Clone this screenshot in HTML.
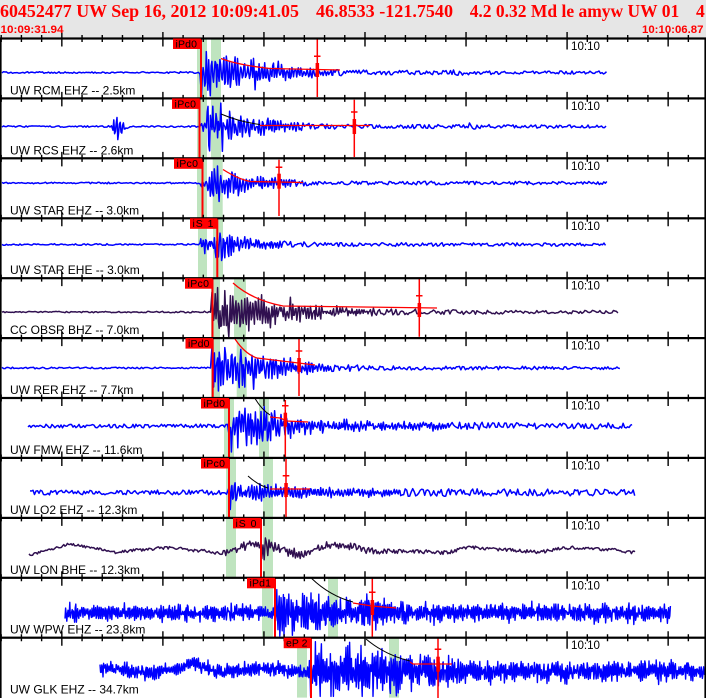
<!DOCTYPE html>
<html><head><meta charset="utf-8"><style>
html,body{margin:0;padding:0;background:#fff;width:706px;height:698px;overflow:hidden}
svg{display:block}
</style></head><body>
<svg id="s" width="706" height="698" viewBox="0 0 706 698" xmlns="http://www.w3.org/2000/svg">
<rect x="0" y="0" width="706" height="698" fill="#fff"/>
<rect x="0" y="0" width="706" height="38.5" fill="#e6e6e6"/>
<g id="green" fill="#bfe4bf"></g>
<g id="waves"></g>
<g id="marks">
  <path fill="none" stroke="#f00" stroke-width="2" d="M201,38.5V97.5 M199.5,98.4V157.5 M202.5,158.3V217.5 M217.3,218.3V277.5 M212.5,278.2V337.5 M212.7,338.1V397.5 M229,398V457.5 M229,458V517.5 M261,518V577.5 M275,578V637.5 M311,638V698"/>
  <path fill="none" stroke="#f00" stroke-width="1.3" d="M221,58.5 Q238,65 270,68.5 L340,70 M223,169.5 Q238,179 250,181.5 L303,182.5 M233,283 Q252,300 283,306 L437,308 M235,339 Q245,354 257,358 L315,365 M260,125.5 L370,125.5 M270,417 L280,418 L287,421 L308,422 M270,489 L310,489 M353,603 L372,606 L396,608 M410,662 L413,664 L452,664"/>
  <path fill="none" stroke="#000" stroke-width="1" d="M221,114 Q240,122 260,124.5 M255,398.5 Q262,410 270,415 M248,476 Q258,485 268,488 M311.7,578.5 Q330,596 353,602 M366,639 Q385,655 410,661"/>
  <path fill="none" stroke="#f00" stroke-width="1.5" d="
    M317.3,38.5V97 M314,56.3H320.5
    M354.3,99.7V157 M351,112H357.5
    M279,159.7V216 M275.7,167.3H282.3
    M419.3,278.5V336.7 M416,295.7H422.5
    M299,338.5V396 M295.7,351H302.3
    M285.3,400V457.5 M282,405.7H288.5
    M286,458V517.5 M282.7,475.7H289.3
    M372.3,578V636.7 M369,592.3H375.5
    M438,638V698 M434.7,649.3H441.3"/>
  <g fill="#f00">
    <rect x="315.6" y="63" width="3.5" height="14"/>
    <rect x="352.6" y="119" width="3.5" height="15"/>
    <rect x="277.3" y="173.7" width="3.5" height="15"/>
    <rect x="417.6" y="303" width="3.5" height="14"/>
    <rect x="297.3" y="358" width="3.5" height="14"/>
    <rect x="283.6" y="412.7" width="3.5" height="14"/>
    <rect x="284.3" y="483" width="3.5" height="14"/>
    <rect x="370.6" y="600" width="3.5" height="15"/>
    <rect x="436.3" y="656.7" width="3.5" height="15"/>
  </g>
</g>
<g id="axes" fill="#000">
  <rect x="0" y="37.4" width="706" height="2.2"/>
  <rect x="0" y="97.3" width="706" height="2.2"/>
  <rect x="0" y="157.2" width="706" height="2.2"/>
  <rect x="0" y="217.2" width="706" height="2.2"/>
  <rect x="0" y="277.1" width="706" height="2.2"/>
  <rect x="0" y="337" width="706" height="2.2"/>
  <rect x="0" y="396.9" width="706" height="2.2"/>
  <rect x="0" y="456.8" width="706" height="2.2"/>
  <rect x="0" y="516.8" width="706" height="2.2"/>
  <rect x="0" y="576.7" width="706" height="2.2"/>
  <rect x="0" y="636.6" width="706" height="2.2"/>
  <rect x="0" y="38.5" width="1.6" height="660"/>
  <rect x="704.4" y="38.5" width="1.6" height="660"/>
</g>
<g id="ticks"></g>
<g font-family="'Liberation Serif', serif" font-weight="bold" font-size="17.5" fill="#f00">
  <text x="0" y="17" textLength="299" lengthAdjust="spacingAndGlyphs">60452477 UW Sep 16, 2012 10:09:41.05</text>
  <text x="316" y="17" textLength="137" lengthAdjust="spacingAndGlyphs">46.8533 -121.7540</text>
  <text x="469.7" y="17" textLength="209.5" lengthAdjust="spacingAndGlyphs">4.2 0.32 Md le amyw UW 01</text>
  <text x="696" y="17">4</text>
</g>
<g font-family="'Liberation Sans', Arial, sans-serif" font-weight="bold" font-size="11" fill="#f00">
  <text x="0.5" y="33" textLength="63" lengthAdjust="spacingAndGlyphs">10:09:31.94</text>
  <text x="642" y="33" textLength="61.5" lengthAdjust="spacingAndGlyphs">10:10:06.87</text>
</g>
<g font-family="'Liberation Sans', Arial, sans-serif" font-size="12" fill="#000">
  <text x="571" y="50" textLength="29" lengthAdjust="spacingAndGlyphs">10:10</text>
  <text x="571" y="109.9" textLength="29" lengthAdjust="spacingAndGlyphs">10:10</text>
  <text x="571" y="169.8" textLength="29" lengthAdjust="spacingAndGlyphs">10:10</text>
  <text x="571" y="229.8" textLength="29" lengthAdjust="spacingAndGlyphs">10:10</text>
  <text x="571" y="289.7" textLength="29" lengthAdjust="spacingAndGlyphs">10:10</text>
  <text x="571" y="349.6" textLength="29" lengthAdjust="spacingAndGlyphs">10:10</text>
  <text x="571" y="409.5" textLength="29" lengthAdjust="spacingAndGlyphs">10:10</text>
  <text x="571" y="469.4" textLength="29" lengthAdjust="spacingAndGlyphs">10:10</text>
  <text x="571" y="529.4" textLength="29" lengthAdjust="spacingAndGlyphs">10:10</text>
  <text x="571" y="589.3" textLength="29" lengthAdjust="spacingAndGlyphs">10:10</text>
  <text x="571" y="649.2" textLength="29" lengthAdjust="spacingAndGlyphs">10:10</text>
</g>
<g font-family="'Liberation Sans', Arial, sans-serif" font-size="12" fill="#000">
  <text x="10" y="94.4">UW RCM EHZ -- 2.5km</text>
  <text x="10" y="154.3">UW RCS EHZ -- 2.6km</text>
  <text x="10" y="214.3">UW STAR EHZ -- 3.0km</text>
  <text x="10" y="274.2">UW STAR EHE -- 3.0km</text>
  <text x="10" y="334.1">CC OBSR BHZ -- 7.0km</text>
  <text x="10" y="394">UW RER EHZ -- 7.7km</text>
  <text x="10" y="453.9">UW FMW EHZ -- 11.6km</text>
  <text x="10" y="513.9">UW LO2 EHZ -- 12.3km</text>
  <text x="10" y="573.8">UW LON BHE -- 12.3km</text>
  <text x="10" y="633.7">UW WPW EHZ -- 23.8km</text>
  <text x="10" y="693.6">UW GLK EHZ -- 34.7km</text>
</g>
<g fill="#f00">
  <rect x="173" y="38.5" width="27.8" height="10.5"/>
  <rect x="172" y="98.4" width="27.8" height="10.5"/>
  <rect x="174" y="158.3" width="27.8" height="10.5"/>
  <rect x="190" y="218.3" width="27.3" height="10.5"/>
  <rect x="185" y="278.2" width="27.5" height="10.5"/>
  <rect x="185.5" y="338.1" width="27.5" height="10.5"/>
  <rect x="201" y="398" width="28" height="10.5"/>
  <rect x="201" y="458" width="28" height="10.5"/>
  <rect x="233" y="517.9" width="28" height="10.5"/>
  <rect x="247" y="577.8" width="28" height="10.5"/>
  <rect x="283.7" y="637.7" width="27.5" height="10.5"/>
</g>
<g font-family="'Liberation Sans', Arial, sans-serif" font-size="10.5" fill="#000">
  <text x="175.5" y="47.4" textLength="21.5" lengthAdjust="spacing">iPd0</text>
  <text x="174.5" y="107.3" textLength="21.5" lengthAdjust="spacing">iPc0</text>
  <text x="176.5" y="167.2" textLength="21.5" lengthAdjust="spacing">iPc0</text>
  <text x="192.5" y="227.2" textLength="21" lengthAdjust="spacing">iS 1</text>
  <text x="187.5" y="287.1" textLength="21.5" lengthAdjust="spacing">iPc0</text>
  <text x="188" y="347" textLength="21.5" lengthAdjust="spacing">iPd0</text>
  <text x="203.5" y="406.9" textLength="21.5" lengthAdjust="spacing">iPd0</text>
  <text x="203.5" y="466.9" textLength="21.5" lengthAdjust="spacing">iPc0</text>
  <text x="235.5" y="526.8" textLength="21" lengthAdjust="spacing">iS 0</text>
  <text x="249.5" y="586.7" textLength="21.5" lengthAdjust="spacing">iPd1</text>
  <text x="286" y="646.6" textLength="21.5" lengthAdjust="spacing">eP 2</text>
</g>
</svg>
<script>
(function(){
var NS='http://www.w3.org/2000/svg';
function el(tag,attrs,parent){var e=document.createElementNS(NS,tag);for(var k in attrs)e.setAttribute(k,attrs[k]);parent.appendChild(e);return e;}
function mulberry32(a){return function(){a|=0;a=a+0x6D2B79F5|0;var t=Math.imul(a^a>>>15,1|a);t=t+Math.imul(t^t>>>7,61|t)^t;return((t^t>>>14)>>>0)/4294967296;};}
function lin(p,x){if(x<=p[0][0])return p[0][1];for(var i=1;i<p.length;i++){if(x<=p[i][0]){var a=p[i-1],b=p[i];var f=(x-a[0])/((b[0]-a[0])||1);return a[1]+(b[1]-a[1])*f;}}return p[p.length-1][1];}
function cosi(p,x){if(x<=p[0][0])return p[0][1];for(var i=1;i<p.length;i++){if(x<=p[i][0]){var a=p[i-1],b=p[i];var f=(x-a[0])/((b[0]-a[0])||1);f=(1-Math.cos(Math.PI*f))/2;return a[1]+(b[1]-a[1])*f;}}return p[p.length-1][1];}
var yc=[38.5,98.42,158.34,218.26,278.18,338.1,398.02,457.94,517.86,577.78,637.7,697.62];

var G=document.getElementById('green');
var bands=[[[197,207],[211,221]],[[197,207],[211,221]],[[197,207],[212.7,222.7]],[[198,207],[213,223]],[[211,220],[234,246]],[[211,220],[236.7,246.7]],[[224,234],[259,269]],[[226,236],[263,273]],[[226,236],[263,273]],[[262,273],[328,338]],[[297,307],[389,399]]];
for(var k=0;k<bands.length;k++){for(var j=0;j<bands[k].length;j++){var b=bands[k][j];el('rect',{x:b[0],y:yc[k],width:b[1]-b[0],height:yc[k+1]-yc[k]},G);}}

var T=document.getElementById('ticks');var d='';
for(var k=0;k<11;k++){for(var t=32;t<=66;t++){var x=(t-31.94)*20.21;var a,bb;if(t==60){a=-6.5;bb=11;}else if(t%5==0){a=-6.5;bb=8;}else{a=-3.5;bb=3.5;}d+='M'+x.toFixed(2)+','+(yc[k]+a).toFixed(2)+'V'+(yc[k]+bb).toFixed(2);}}
el('path',{d:d,stroke:'#000','stroke-width':1.4,fill:'none'},T);

var W=document.getElementById('waves');
var B='#0000ff',PU='#301050';
var P=[
{k:0,x0:2,x1:607,base:72.5,col:B,amp:[[2,.8],[199,.8],[200.5,3],[201.5,30],[212,27],[225,24],[240,17],[260,12],[280,9],[300,7],[320,5],[340,3.5],[360,2.5],[450,2],[460,3.5],[475,2],[607,1.5]]},
{k:1,x0:2,x1:607,base:126.5,col:B,amp:[[2,.8],[112,.8],[116,14],[118,18],[121,8],[126,3],[132,.8],[199,.8],[200,5],[206,6],[207.5,27],[225,22],[240,15],[260,10],[280,6],[300,4],[320,3],[360,2],[465,2],[470,4],[478,2],[607,1.5]]},
{k:2,x0:2,x1:607,base:183,col:B,amp:[[2,.8],[200,.8],[201,8],[210,10],[212,24],[225,22],[240,12],[260,7],[280,5],[300,3],[320,2],[607,1.5]]},
{k:3,x0:2,x1:607,base:244.5,col:B,amp:[[2,.8],[199,.8],[200,8],[215,9],[217,20],[225,18],[240,10],[260,6],[280,4],[300,3],[320,2],[607,1.5]]},
{k:4,x0:2,x1:619,base:312,col:PU,amp:[[2,.6],[211,.8],[212,30],[230,26],[250,23],[270,18],[290,13],[310,9],[340,6],[370,4],[400,3],[450,2.5],[500,2],[619,1.5]]},
{k:5,x0:2,x1:620,base:368,col:B,amp:[[2,.8],[211,.8],[212,28],[230,26],[250,22],[270,14],[290,9],[310,6],[330,4],[360,3],[400,2],[620,1.5]]},
{k:6,x0:28,x1:633,base:426,col:B,amp:[[28,1.8],[228,1.8],[229,27],[250,23],[270,18],[290,12],[310,9],[340,7],[380,5],[450,4],[550,3],[633,3]]},
{k:7,x0:30,x1:636,base:492.5,col:B,amp:[[30,2.5],[228,2.5],[229,25],[235,20],[236,10],[259,10],[262,22],[266,10],[290,8],[330,5],[400,4],[636,3.2]]},
{k:8,x0:29,x1:636,col:PU,step:1.2,base:[[29,555],[50,549],[70,544.5],[100,549],[113,552.5],[140,550],[167,547.7],[200,550.7],[220,553],[233,550],[253,543],[262,548],[277,548],[293,553],[303,555],[320,548],[333,545],[350,546.7],[373,551],[420,551.7],[446,552.7],[463,548.3],[473,547.7],[503,550],[540,551.7],[563,548.3],[573,547.7],[603,549.3],[636,552.3]],amp:[[29,1.2],[222,1.5],[226,4],[258,5],[261,7],[262.5,18],[266,12],[280,6],[350,4],[400,2],[636,1.5]]},
{k:9,x0:65,x1:671,base:613,col:B,step:.6,per:[1.4,2.6],sw:1.4,sc:1.35,amp:[[65,8],[272,8],[275,26],[300,22],[340,16],[380,14],[400,12],[420,9],[671,9]]},
{k:10,x0:100,x1:706,col:B,step:.6,per:[1.4,2.6],sw:1.4,sc:1.35,base:[[100,668],[150,672],[180,668],[193,663],[205,668],[217,672],[267,668],[300,672],[706,671]],amp:[[100,7],[308,7],[311,26],[350,25],[400,20],[430,15],[500,11],[706,10]]}
];
var R=mulberry32(20120916);
for(var i=0;i<P.length;i++){
  var p=P[i];var top=yc[p.k]+1.2,bot=yc[p.k+1]-1.2;var pts=[];var ph=R()*6.28;var x=p.x0;
  var dense=!!p.per;var sc=p.sc||1.15;
  while(x<=p.x1){
    var A=lin(p.amp,x);var b=(typeof p.base==='number')?p.base:cosi(p.base,x);
    var y;
    if(A<4 && !dense){y=b+A*(R()*2-1);}
    else{var m=0.4+0.6*R();if(R()<0.08)m*=1.35;var g=R()*2-1;y=b+A*sc*(0.7*m*Math.sin(ph)+0.3*g);}
    if(y<top)y=top;if(y>bot)y=bot;
    pts.push(x.toFixed(1)+','+y.toFixed(1));
    var st=p.step||(A>=4?0.8:1.5);
    var per=p.per?(p.per[0]+R()*(p.per[1]-p.per[0])):(A>=4?(1.8+R()*2.4):(3+R()*4));
    ph+=2*Math.PI*st/per;x+=st;
  }
  el('polyline',{points:pts.join(' '),fill:'none',stroke:p.col,'stroke-width':p.sw||1.5,'stroke-linejoin':'round'},W);
}
})();
</script>
</body></html>
